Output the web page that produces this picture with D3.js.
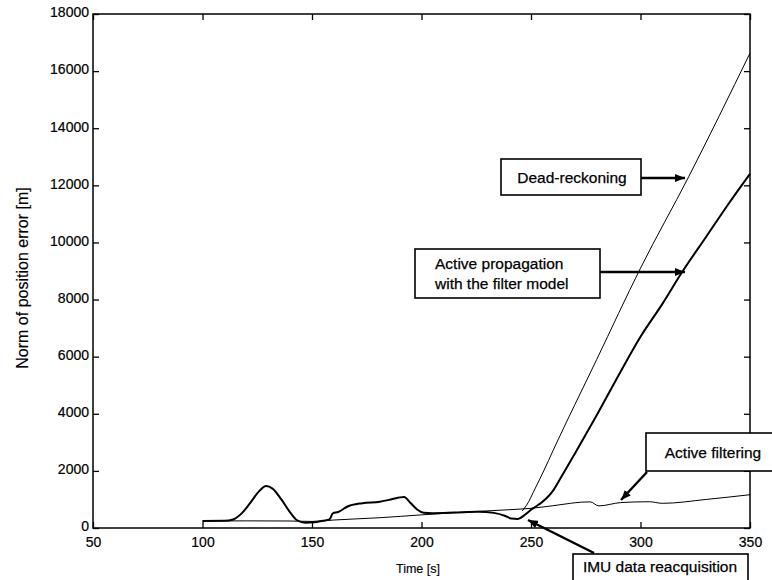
<!DOCTYPE html>
<html>
<head>
<meta charset="utf-8">
<script src="https://cdn.jsdelivr.net/npm/d3@7"></script>
<style>
body { margin: 0; background: #ffffff; }
svg { display: block; font-family: "Liberation Sans", Arial, sans-serif; }
</style>
</head>
<body>
<svg id="chart" width="772" height="580"></svg>
<script>
// tick values
var xTicks = [50, 100, 150, 200, 250, 300, 350];
var yTicks = [0, 2000, 4000, 6000, 8000, 10000, 12000, 14000, 16000, 18000];

// active filtering (thin line, whole run)
var filtT = [100, 120, 140, 150, 160, 181, 200, 220, 240, 250, 260, 268, 273, 277, 281, 291, 304, 310, 330, 350];
var filtV = [245, 250, 245, 230, 280, 360, 460, 560, 640, 690, 780, 864, 905, 915, 775, 890, 920, 864, 1000, 1166];

// active propagation with the filter model (thick line)
var propT = [100, 110, 114, 118, 122, 126, 129, 132, 136, 140, 143, 147, 151, 155, 158, 159.5, 162, 166, 173, 181, 186, 192, 195, 198, 201, 205, 215, 226, 233, 238, 241, 244, 247, 250, 255, 260, 263, 270, 280, 290, 300, 310, 319, 330, 340, 350];
var propV = [245, 250, 300, 520, 900, 1300, 1470, 1380, 1000, 550, 280, 186, 200, 255, 300, 514, 560, 745, 870, 920, 1000, 1085, 875, 650, 535, 520, 540, 570, 530, 430, 330, 315, 450, 640, 900, 1300, 1680, 2600, 3950, 5350, 6700, 7850, 8963, 10200, 11330, 12400];

// dead-reckoning (thin line after reacquisition)
var deadT = [246, 248, 252, 256, 260, 280, 300, 322, 350];
var deadV = [600, 800, 1400, 2030, 2700, 5900, 9100, 12300, 16630];

var svg = d3.select("#chart");

var plotLeft = 93, plotRight = 750, plotTop = 14, plotBottom = 528;

var x = d3.scaleLinear().domain([50, 350]).range([plotLeft, plotRight]);
var y = d3.scaleLinear().domain([0, 18000]).range([plotBottom, plotTop]);

svg.append("rect")
	.attr("width", 772)
	.attr("height", 580)
	.attr("fill", "#ffffff");

// arrow head
svg.append("defs").append("marker")
	.attr("id", "head")
	.attr("viewBox", "0 0 10 8")
	.attr("refX", 10)
	.attr("refY", 4)
	.attr("markerWidth", 10)
	.attr("markerHeight", 8)
	.attr("markerUnits", "userSpaceOnUse")
	.attr("orient", "auto")
	.append("path")
	.attr("d", "M0,0 L10,4 L0,8 Z")
	.attr("fill", "#000");

// axes, ticks pointing inward on all four sides
function styleAxis(g) {
	g.selectAll(".domain").remove();
	g.selectAll(".tick line").attr("stroke", "#000").attr("stroke-width", 1.3);
	g.selectAll(".tick text")
		.attr("fill", "#000")
		.attr("stroke", "#000")
		.attr("stroke-width", 0.2)
		.attr("font-size", "14px")
		.attr("font-family", "Liberation Sans, Arial, sans-serif");
}

svg.append("g")
	.attr("transform", "translate(0," + plotBottom + ")")
	.call(d3.axisBottom(x).tickValues(xTicks).tickSizeInner(-6).tickSizeOuter(0).tickPadding(9).tickFormat(d3.format("d")))
	.call(styleAxis);

svg.append("g")
	.attr("transform", "translate(0," + plotTop + ")")
	.call(d3.axisTop(x).tickValues(xTicks).tickSizeInner(-6).tickSizeOuter(0).tickFormat(""))
	.call(styleAxis);

svg.append("g")
	.attr("transform", "translate(" + plotLeft + ",0)")
	.call(d3.axisLeft(y).tickValues(yTicks).tickSizeInner(-6).tickSizeOuter(0).tickPadding(4).tickFormat(d3.format("d")))
	.call(styleAxis)
	.selectAll(".tick text")
	.attr("dy", "0.2em");

svg.append("g")
	.attr("transform", "translate(" + plotRight + ",0)")
	.call(d3.axisRight(y).tickValues(yTicks).tickSizeInner(-6).tickSizeOuter(0).tickFormat(""))
	.call(styleAxis);

svg.append("rect")
	.attr("x", plotLeft)
	.attr("y", plotTop)
	.attr("width", plotRight - plotLeft)
	.attr("height", plotBottom - plotTop)
	.attr("fill", "none")
	.attr("stroke", "#000")
	.attr("stroke-width", 1.5);

// curves
var line = d3.line()
	.x(function(d) { return x(d[0]); })
	.y(function(d) { return y(d[1]); })
	.curve(d3.curveMonotoneX);

function pairs(t, v) {
	return t.map(function(d, i) { return [d, v[i]]; });
}

svg.append("path")
	.attr("d", line(pairs(filtT, filtV)))
	.attr("fill", "none")
	.attr("stroke", "#000")
	.attr("stroke-width", 1);

svg.append("path")
	.attr("d", line(pairs(deadT, deadV)))
	.attr("fill", "none")
	.attr("stroke", "#000")
	.attr("stroke-width", 1);

svg.append("path")
	.attr("d", line(pairs(propT, propV)))
	.attr("fill", "none")
	.attr("stroke", "#000")
	.attr("stroke-width", 2);

// axis titles
svg.append("text")
	.attr("x", 418)
	.attr("y", 573)
	.attr("font-size", "12.5px")
	.attr("text-anchor", "middle")
	.attr("stroke", "#000")
	.attr("stroke-width", 0.15)
	.text("Time [s]");

svg.append("text")
	.attr("transform", "translate(28,278) rotate(-90)")
	.attr("font-size", "16px")
	.attr("text-anchor", "middle")
	.attr("stroke", "#000")
	.attr("stroke-width", 0.15)
	.text("Norm of position error [m]");

// annotation boxes
function box(bx, by, bw, bh) {
	svg.append("rect")
		.attr("x", bx)
		.attr("y", by)
		.attr("width", bw)
		.attr("height", bh)
		.attr("fill", "#fff")
		.attr("stroke", "#000")
		.attr("stroke-width", 1.6);
}

function arrow(x1, y1, x2, y2) {
	svg.append("line")
		.attr("x1", x1).attr("y1", y1)
		.attr("x2", x2).attr("y2", y2)
		.attr("stroke", "#000")
		.attr("stroke-width", 2.4)
		.attr("marker-end", "url(#head)");
}

function label(tx, ty, s, anchor) {
	svg.append("text")
		.attr("x", tx)
		.attr("y", ty)
		.attr("font-size", "15.5px")
		.attr("text-anchor", anchor)
		.attr("stroke", "#000")
		.attr("stroke-width", 0.25)
		.text(s);
}

box(501, 159, 140, 36);
label(572, 183, "Dead-reckoning", "middle");
arrow(641, 178, 685, 178);

box(415, 249, 185, 49);
label(435, 269, "Active propagation", "start");
label(435, 289, "with the filter model", "start");
arrow(600, 272, 685, 272);

box(646, 433, 135, 38);
label(713, 458, "Active filtering", "middle");
arrow(647, 472, 621, 500);

box(573, 554, 175, 40);
label(660, 572, "IMU data reacquisition", "middle");
arrow(594, 553, 528, 520);
</script>
</body>
</html>
